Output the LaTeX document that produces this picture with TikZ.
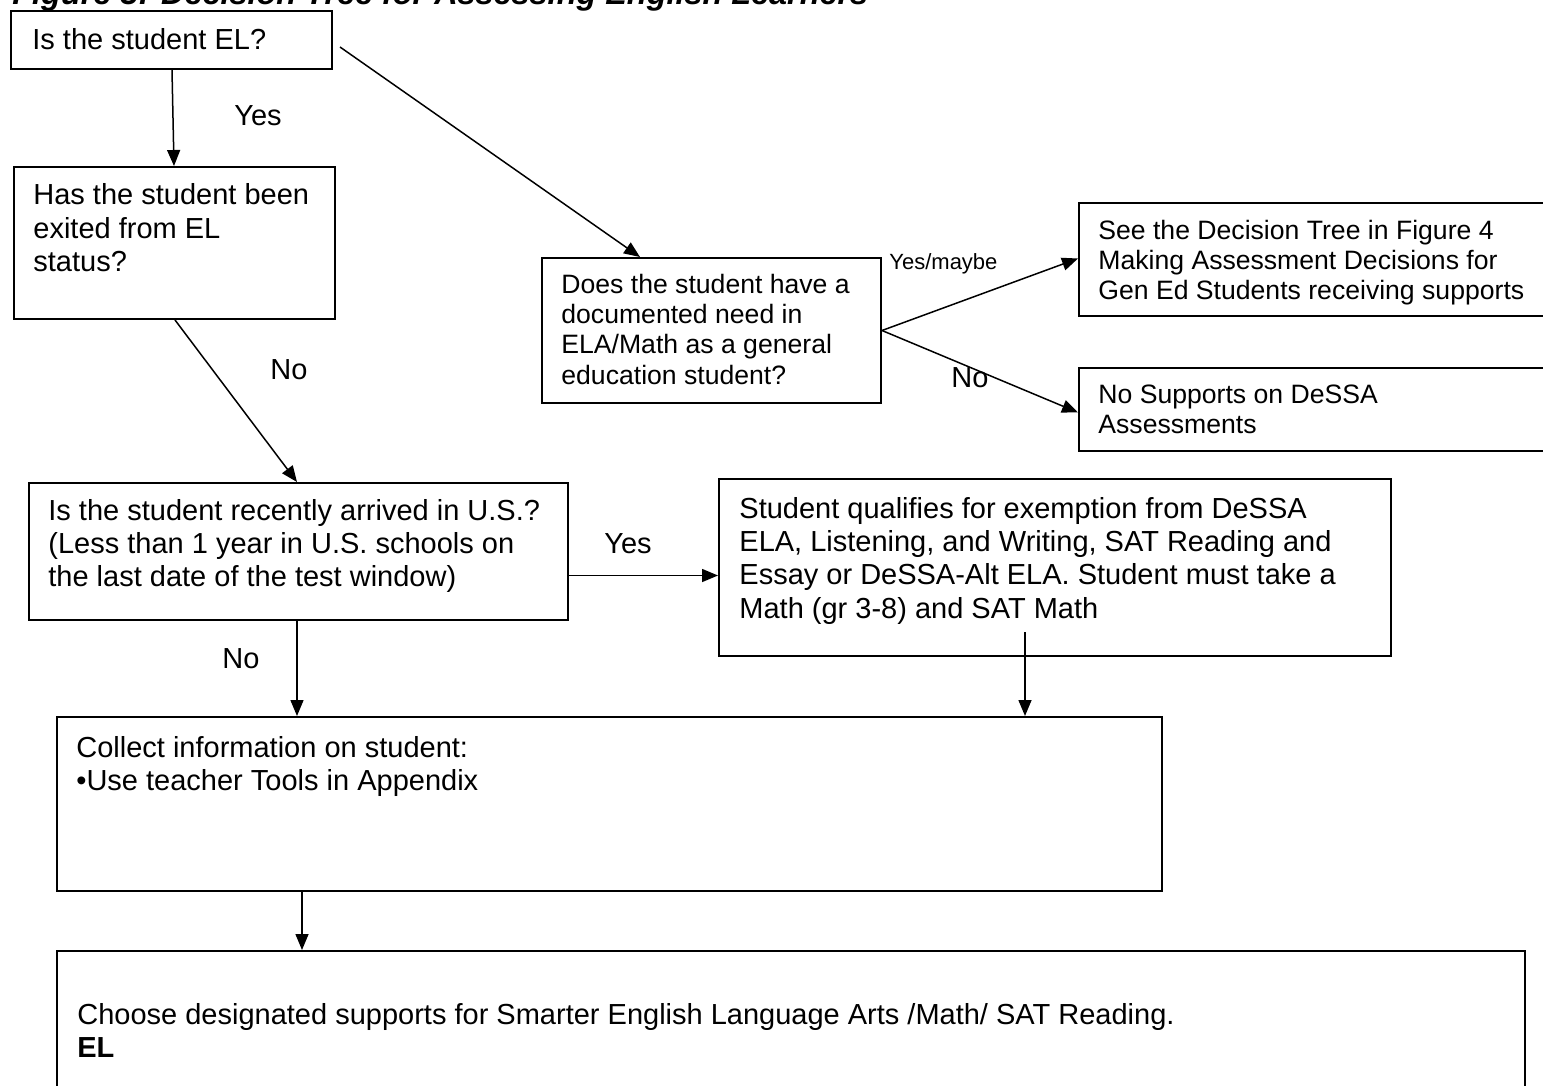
\documentclass[tikz,border=0pt]{standalone}
\usepackage{fontspec}
\setmainfont{Liberation Sans}
\usetikzlibrary{arrows.meta,calc}

\tikzset{
  box/.style={draw=black, line width=1pt, rectangle, inner sep=0pt, anchor=north west},
  txt/.style={inner sep=0pt, anchor=base west, font=\fontsize{14.5}{16.7}\selectfont},
  txtm/.style={inner sep=0pt, anchor=base west, font=\fontsize{13.3}{15.2}\selectfont},
  txts/.style={inner sep=0pt, anchor=base west, font=\fontsize{11}{13}\selectfont},
  arr/.style={line width=0.75pt, -{Triangle[length=8pt,width=6.5pt]}},
  ln/.style={line width=0.75pt}
}
% box from its top-left to its bottom-right corner, in pixel units
\newcommand\flowbox[5]{%
  \node[box, minimum width={(#4-#2)*0.5pt}, minimum height={(#5-#3)*0.5pt}] (#1) at (#2,#3) {};}
\newcommand\para[1]{\parbox[t]{700pt}{#1}}

\begin{document}
\begin{tikzpicture}[x=0.5pt, y=-0.5pt]
\useasboundingbox (0,0) rectangle (1543,1086);
\clip (0,0) rectangle (1543,1086);

% heading, partly above the top edge
\node[inner sep=0pt, anchor=base west, font=\fontsize{16.2}{19}\selectfont\bfseries\itshape]
  (title) at (12,5) {Figure 3: Decision Tree for Assessing English Learners};

% boxes
\flowbox{A}{10}{10}{331}{68}
\flowbox{B}{13}{166}{334}{318}
\flowbox{C}{541}{257}{880}{402}
\flowbox{D}{1078}{202}{1570}{315}
\flowbox{E}{1078}{367}{1570}{450}
\flowbox{F}{28}{482}{567}{619}
\flowbox{G}{718}{478}{1390}{655}
\flowbox{H}{56}{716}{1161}{890}
\flowbox{I}{56}{950}{1524}{1120}

% box texts
\node[txt] (At) at (32,50) {Is the student EL?};
\node[txt] (Bt) at (33,205) {\para{Has the student been\\exited from EL\\status?}};
\node[txtm] (Ct) at (561,293) {\para{Does the student have a\\documented need in\\ELA/Math as a general\\education student?}};
\node[txtm] (Dt) at (1098,239) {\para{See the Decision Tree in Figure 4\\Making Assessment Decisions for\\Gen Ed Students receiving supports}};
\node[txtm] (Et) at (1098,403) {\para{No Supports on DeSSA\\Assessments}};
\node[txt] (Ft) at (48,520) {\para{Is the student recently arrived in U.S.?\\(Less than 1 year in U.S. schools on\\the last date of the test window)}};
\node[txt] (Gt) at (739,518) {\para{Student qualifies for exemption from DeSSA\\ELA, Listening, and Writing, SAT Reading and\\Essay or DeSSA-Alt ELA. Student must take a\\Math (gr 3-8) and SAT Math}};
\node[txt] (Ht) at (76,757) {\para{Collect information on student:\\\char"2022 Use teacher Tools in Appendix}};
\node[txt] (It) at (77,1024) {\para{Choose designated supports for Smarter English Language Arts /Math/ SAT Reading.\\\textbf{EL}}};

% connectors
\draw[arr] ($(A.south west)+(162,0)$) -- ($(B.north west)+(161,0)$);
\coordinate (a2) at ($(A.east)+(7,7)$);
\draw[arr] (a2) -- ($(C.north west)+(99,0)$);
\coordinate (fork) at (C.east);
\draw[arr] (fork) -- ($(D.west)+(0,-1)$);
\draw[arr] (fork) -- ($(E.west)+(0,3)$);
\draw[arr] ($(B.south west)+(162,0)$) -- ($(F.north west)+(269,0)$);
\coordinate (fy) at ($(F.east)+(0,24)$);
\draw[arr] (fy) -- (fy -| G.west);
\coordinate (fn) at ($(F.south west)+(269,0)$);
\draw[arr] (fn) -- (fn |- H.north);
\coordinate (gs) at ($(G.south west)+(307,-25)$);
\draw[arr] (gs) -- (gs |- H.north);
\coordinate (hs) at ($(H.south west)+(246,0)$);
\draw[arr] (hs) -- (hs |- I.north);

% connector labels
\node[txt] (l1) at (234,126) {Yes};
\node[txts] (l2) at (889,269) {Yes/maybe};
\node[txt] (l3) at (951,387) {No};
\node[txt] (l4) at (270,379) {No};
\node[txt] (l5) at (604,553) {Yes};
\node[txt] (l6) at (222,668) {No};
\end{tikzpicture}
\end{document}
